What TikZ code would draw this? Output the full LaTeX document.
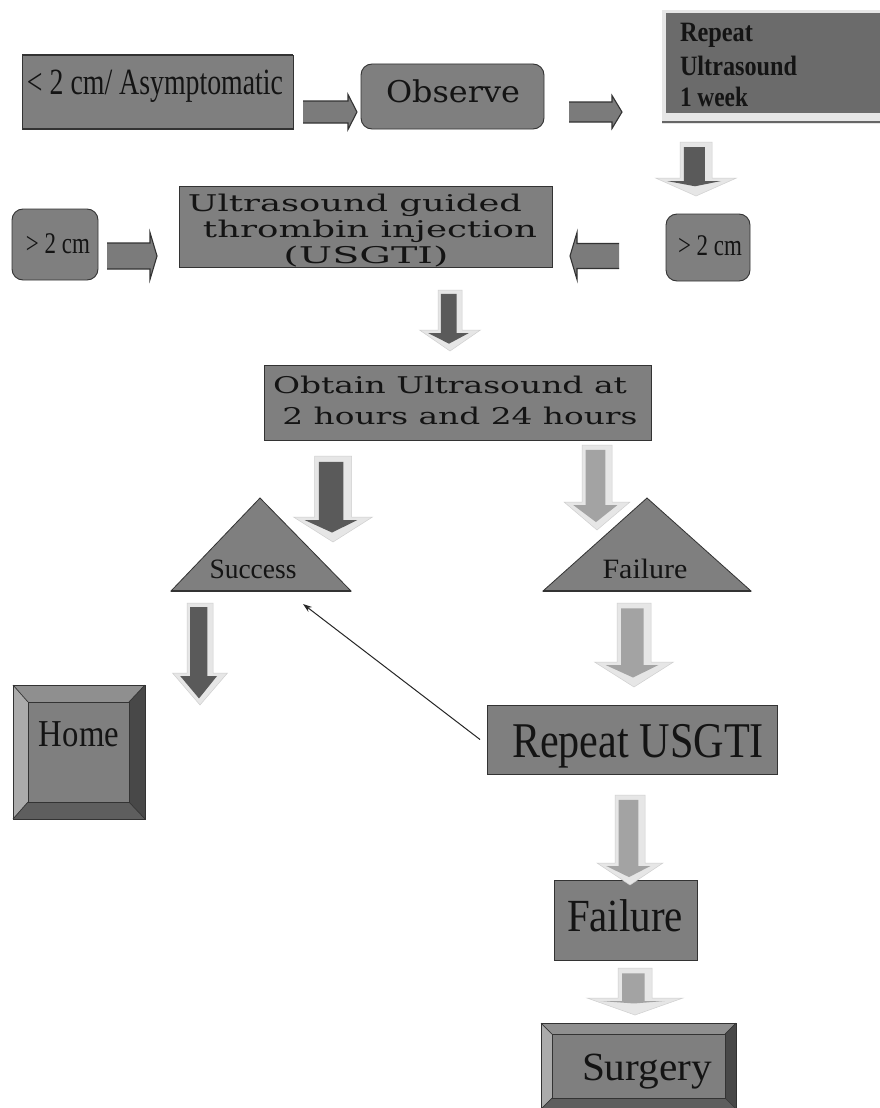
\documentclass[tikz,border=0pt]{standalone}
\usepackage{fontspec}
\setmainfont{Liberation Serif}
\newfontfamily\wideserif{DejaVu Serif}
\usepackage{graphicx}
\usetikzlibrary{arrows.meta}
\definecolor{boxgray}{HTML}{7F7F7F}
\definecolor{darkbox}{HTML}{6B6B6B}
\definecolor{edgegray}{HTML}{333333}
\definecolor{arrgray}{HTML}{7B7B7B}
\definecolor{halo}{HTML}{E6E6E6}
\definecolor{haloedge}{HTML}{CFCFCF}
\definecolor{darkarr}{HTML}{5A5A5A}
\definecolor{lightarr}{HTML}{A3A3A3}
\definecolor{bevtop}{HTML}{8F8F8F}
\definecolor{bevleft}{HTML}{ABABAB}
\definecolor{bevright}{HTML}{484848}
\definecolor{bevbot}{HTML}{5E5E5E}
\newcommand\tx[3]{{\fontsize{#1}{#1}\selectfont\resizebox{#2}{\height}{#3}}}
\newcommand\bx[6]{\node[#1,minimum width={(#5-#3)*1pt},minimum height={(#6-#4)*1pt}] (#2) at (#3,#4) {};}
% horizontal block arrow: x0 tail, xh head start, x1 tip, c centre y, bh body h, hh head h
\newcommand\HArrow[6]{%
  \fill[arrgray] ({#1},{#4-#5/2}) -- ({#2},{#4-#5/2}) -- ({#2},{#4-#6/2}) -- ({#3},{#4}) -- ({#2},{#4+#6/2}) -- ({#2},{#4+#5/2}) -- ({#1},{#4+#5/2}) -- cycle;
  \draw[edgegray,line width=1.1pt,line join=miter] ({#1},{#4-#5/2}) -- ({#2},{#4-#5/2}) -- ({#2},{#4-#6/2}) -- ({#3},{#4}) -- ({#2},{#4+#6/2}) -- ({#2},{#4+#5/2}) -- ({#1},{#4+#5/2});}
% down block arrow: cx, top, body w, head w, head top, tip, inner colour
\newcommand\DArrow[7]{%
  \filldraw[fill=halo,draw=haloedge,line width=0.5pt] ({#1-#3/2},{#2}) -- ({#1+#3/2},{#2}) -- ({#1+#3/2},{#5}) -- ({#1+#4/2},{#5}) -- ({#1},{#6}) -- ({#1-#4/2},{#5}) -- ({#1-#3/2},{#5}) -- cycle;
  \fill[#7] ({#1-#3/2+0.12*#3},{#2+0.16*#3}) -- ({#1+#3/2-0.22*#3},{#2+0.16*#3}) -- ({#1+#3/2-0.22*#3},{#5+3}) -- ({#1+#4/2-0.19*#4},{#5+3}) -- ({#1-1},{#6-0.12*#4}) -- ({#1-#4/2+0.14*#4},{#5+3}) -- ({#1-#3/2+0.12*#3},{#5+3}) -- cycle;}
\begin{document}
\begin{tikzpicture}[x=1pt,y=-1pt,
  box/.style={draw=edgegray,line width=0.9pt,fill=boxgray,inner sep=0pt,outer sep=0pt,anchor=north west},
  rbox/.style={box,rounded corners=11pt},
  tri/.style={fill=boxgray,draw=edgegray,line width=0.8pt,line join=miter},
  txt/.style={inner sep=0pt,outer sep=0pt,anchor=base,text=black!92},
  ltxt/.style={txt,anchor=base west},
]
\useasboundingbox (0,0) rectangle (880,1108);
\fill[white] (0,0) rectangle (880,1108);

% ---------- top row ----------
\bx{box}{asym}{22}{55}{293}{129}
\draw[edgegray,line width=1.6pt] (asym.north west) -- (asym.north east) (asym.south west) -- (asym.south east);
\bx{rbox}{obs}{361}{64}{544}{129}
% Repeat ultrasound box with light band
\fill[halo] (662,10) rectangle (880,124);
\node[fill=darkbox,inner sep=0pt,outer sep=0pt,anchor=north west,minimum width=214pt,minimum height=100pt] (rep) at (666,13) {};
\draw[black!60,line width=1.4pt] (662,122) -- (880,122);

% ---------- second row ----------
\bx{rbox}{gtl}{12}{209}{98}{280}
\bx{box}{usg}{179}{186}{552}{267}
\bx{rbox}{gtr}{666}{214}{750}{281}

% ---------- obtain ----------
\bx{box}{obt}{264}{365}{651}{440}

% ---------- triangles ----------
\draw[tri] (171,591) -- (260,498) -- (351,591) -- cycle;
\draw[edgegray,line width=1.4pt] (171,591) -- (351,591);
\coordinate (succ) at (260,560);
\draw[tri] (543,591) -- (647,498) -- (751,591) -- cycle;
\draw[edgegray,line width=1.4pt] (543,591) -- (751,591);
\coordinate (fail) at (647,560);

% ---------- Home (bevelled) ----------
\fill[bevtop] (13,685) -- (145,685) -- (129,702) -- (28,702) -- cycle;
\fill[bevleft] (13,685) -- (28,702) -- (28,802) -- (13,819) -- cycle;
\fill[bevright] (145,685) -- (145,819) -- (129,802) -- (129,702) -- cycle;
\fill[bevbot] (13,819) -- (145,819) -- (129,802) -- (28,802) -- cycle;
\node[fill=boxgray,draw=edgegray,line width=0.7pt,inner sep=0pt,outer sep=0pt,anchor=north west,minimum width=101pt,minimum height=100pt] (home) at (28,702) {};
\draw[edgegray,line width=0.7pt] (13,685) -- (28,702) (145,685) -- (129,702) (13,819) -- (28,802) (145,819) -- (129,802);
\draw[edgegray,line width=1pt] (13,685) rectangle (145,819);

% ---------- Repeat USGTI ----------
\bx{box}{rusg}{487}{705}{777}{774}

% ---------- Failure box ----------
\bx{box}{fbox}{554}{880}{697}{960}

% ---------- Surgery (bevelled) ----------
\fill[bevtop] (541,1023) -- (736,1023) -- (725,1034) -- (552,1034) -- cycle;
\fill[bevleft] (541,1023) -- (552,1034) -- (552,1098) -- (541,1109) -- cycle;
\fill[bevright] (736,1023) -- (736,1109) -- (725,1098) -- (725,1034) -- cycle;
\fill[bevbot] (541,1109) -- (736,1109) -- (725,1098) -- (552,1098) -- cycle;
\node[fill=boxgray,draw=edgegray,line width=0.7pt,inner sep=0pt,outer sep=0pt,anchor=north west,minimum width=173pt,minimum height=64pt] (surg) at (552,1034) {};
\draw[edgegray,line width=0.7pt] (541,1023) -- (552,1034) (736,1023) -- (725,1034) (541,1109) -- (552,1098) (736,1109) -- (725,1098);
\draw[edgegray,line width=1pt] (541,1023) rectangle (736,1109);

% ---------- block arrows ----------
\HArrow{303}{348}{357}{112}{22}{35}
\HArrow{569}{612}{622}{112}{20}{33}
\HArrow{107}{150}{157}{256}{26}{47}
\HArrow{619}{577}{570}{256}{25}{47}
\DArrow{696}{142}{32}{81}{178}{196}{darkarr}
\DArrow{450}{290}{24}{61}{330}{351}{darkarr}
\DArrow{333}{456}{37}{79}{517}{542}{darkarr}
\DArrow{597}{445}{30}{66}{502}{530}{lightarr}
\DArrow{200}{603}{26}{55}{673}{705}{darkarr}
\DArrow{634}{603}{34}{79}{662}{687}{lightarr}
\DArrow{630}{795}{30}{66}{863}{885}{lightarr}
\DArrow{635}{968}{34}{96}{998}{1015}{lightarr}

% ---------- thin arrow back to Success ----------
\coordinate (ltip) at (303,604);
\draw[black!85,line width=1pt,-{Stealth[length=9pt,width=6pt]}] ([xshift=-7pt]rusg.west) -- (ltip);

% ---------- texts ----------
\node[txt] (t-asym) at (155,95) {\tx{37}{256pt}{< 2 cm/ Asymptomatic}};
\node[txt] (t-obs) at (453,102) {\tx{30}{134pt}{\wideserif Observe}};
\node[ltxt] (t-rep1) at (680,42) {\tx{28}{73pt}{\bfseries Repeat}};
\node[ltxt] (t-rep2) at (680,75) {\tx{28}{117pt}{\bfseries Ultrasound}};
\node[ltxt] (t-rep3) at (680,106) {\tx{28}{68pt}{\bfseries 1 week}};
\node[txt] (t-gtl) at (58,253) {\tx{30}{64pt}{> 2 cm}};
\node[txt] (t-gtr) at (710,255) {\tx{30}{64pt}{> 2 cm}};
\node[txt] (t-usg1) at (355,211) {\tx{23}{334pt}{\wideserif Ultrasound guided}};
\node[txt] (t-usg2) at (370,237) {\tx{23}{334pt}{\wideserif thrombin injection}};
\node[txt] (t-usg3) at (366,263) {\tx{23}{165pt}{\wideserif (USGTI)}};
\node[txt] (t-obt1) at (450,393) {\tx{23}{354pt}{\wideserif Obtain Ultrasound at}};
\node[txt] (t-obt2) at (460,424) {\tx{23}{355pt}{\wideserif 2 hours and 24 hours}};
\node[txt] (t-succ) at (253,578) {\tx{28}{87pt}{Success}};
\node[txt] (t-fail) at (645,578) {\tx{28}{85pt}{Failure}};
\node[txt] (t-home) at (79,746) {\tx{38}{80pt}{Home}};
\node[txt] (t-rusg) at (638,757) {\tx{50}{252pt}{Repeat USGTI}};
\node[txt] (t-fbox) at (625,931) {\tx{46}{116pt}{Failure}};
\node[txt] (t-surg) at (647,1080) {\tx{40}{130pt}{Surgery}};
\end{tikzpicture}
\end{document}
